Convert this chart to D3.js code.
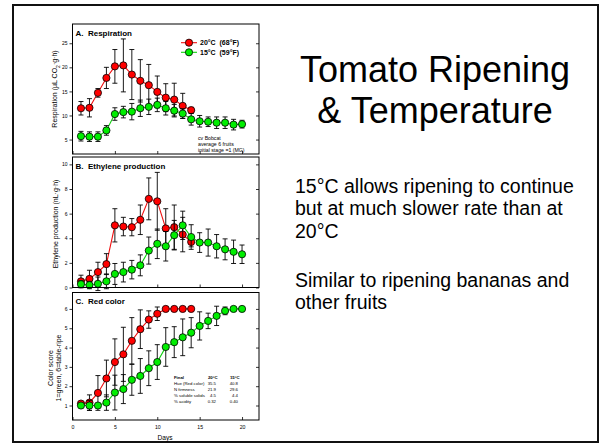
<!DOCTYPE html>
<html>
<head>
<meta charset="utf-8">
<script src="https://cdn.jsdelivr.net/npm/d3@7"></script>
<style>
  html, body { margin: 0; padding: 0; background: #fff; }
  svg { display: block; font-family: "Liberation Sans", Arial, Helvetica, sans-serif; }
  .pre { white-space: pre; }
</style>
</head>
<body>
<svg id="chart" width="602" height="445"></svg>
<script>
// Sampling days for each storage temperature
const days20 = [1, 2, 3, 4, 5, 6, 7, 8, 9, 10, 11, 12, 13, 14];
const days15 = [1, 2, 3, 4, 5, 6, 7, 8, 9, 10, 11, 12, 13, 14, 15, 16, 17, 18, 19, 20];

// A. Respiration (µL CO2 per g-h), mean and error
const resp20 = [11.5, 11.6, 14.7, 17.8, 20.2, 20.4, 18.5, 17.2, 16.3, 14.9, 13.7, 13.3, 12.0, 11.1];
const resp20Err = [1.4, 1.9, 0.9, 2.2, 3.5, 5.5, 5.2, 4.4, 4.3, 3.3, 2.9, 3.4, 2.6, 0.6];
const resp15 = [5.7, 5.6, 5.6, 6.9, 10.3, 10.7, 10.8, 11.5, 11.8, 12.2, 11.5, 11.0, 10.4, 9.2, 8.8, 8.7, 8.5, 8.5, 8.1, 8.2];
const resp15Err = [1.0, 1.0, 1.0, 1.0, 1.3, 1.2, 1.7, 1.7, 1.6, 1.4, 1.4, 1.3, 1.0, 1.2, 1.2, 1.0, 1.2, 1.2, 1.1, 0.8];

// B. Ethylene production (nL per g-h)
const eth20 = [0.5, 0.7, 1.25, 1.9, 5.05, 4.95, 4.9, 5.5, 7.2, 7.0, 4.8, 4.9, 4.3, 3.7];
const eth20Err = [0.5, 0.7, 0.8, 0.85, 1.35, 0.75, 0.7, 1.2, 1.7, 2.35, 1.6, 1.8, 1.4, 0.4];
const eth15 = [0.27, 0.2, 0.3, 0.5, 1.1, 1.25, 1.45, 1.8, 3.0, 3.55, 3.35, 4.25, 5.05, 4.1, 3.65, 3.65, 3.35, 3.1, 2.9, 2.7];
const eth15Err = [0.3, 0.3, 0.55, 0.6, 0.85, 0.8, 0.75, 0.85, 1.1, 1.2, 1.2, 1.2, 1.15, 1.0, 0.8, 1.1, 0.95, 0.85, 0.95, 0.75];

// C. Red color score (1 = green, 6 = table-ripe)
const color20 = [1.1, 1.15, 1.65, 2.4, 3.25, 3.65, 4.35, 4.95, 5.45, 5.75, 6.0, 6.0, 6.0, 6.0];
const color20Err = [0.1, 0.4, 0.9, 0.95, 1.2, 1.4, 1.2, 1.0, 0.45, 0.35, 0, 0, 0, 0];
const color15 = [1.0, 1.0, 1.0, 1.15, 1.67, 1.85, 2.33, 2.53, 2.93, 3.25, 4.03, 4.28, 4.53, 4.77, 5.12, 5.38, 5.64, 5.9, 6.0, 6.0];
const color15Err = [0, 0.25, 0, 0.4, 0.9, 0.75, 0.8, 0.9, 0.9, 0.9, 1.0, 0.8, 0.95, 0.78, 0.73, 0.4, 0.5, 0.2, 0, 0];

// Axis ticks
const dayTicks = [0, 5, 10, 15, 20];
const respTicks = [5, 10, 15, 20, 25];
const ethTicks = [0, 2, 4, 6, 8, 10];
const colorTicks = [1, 2, 3, 4, 5, 6];

// Legend and quality summary
const seriesLabels = ["20°C  (68°F)", "15°C  (59°F)"];
const noteLines = ["cv Bobcat", "average 6 fruits", "initial stage =1 (MG)"];
const finalHeaders = ["Final", "20°C", "15°C"];
const finalRows = ["Hue (Red color)", "N firmness", "% soluble solids", "% acidity"];
const final20 = ["35.5", "21.9", "4.5", "0.32"];
const final15 = ["40.8", "29.6", "4.4", "0.40"];

const RED = "#ff0000", GREEN = "#00ee00";
const LINE_RED = "#f01010", LINE_GREEN = "#10d010";

const svg = d3.select("#chart");
svg.append("rect").attr("width", 602).attr("height", 445).attr("fill", "#fff");

// slide frame
svg.append("rect")
  .attr("x", 13).attr("y", 5).attr("width", 585).attr("height", 437)
  .attr("fill", "none").attr("stroke", "#111").attr("stroke-width", 2);

const X0 = 72.5, X1 = 259;
const x = d3.scaleLinear().domain([0, 22]).range([X0, X1]);

const panels = [
  { title: "A.  Respiration", top: 24, bottom: 154, domain: [2, 29], ticks: respTicks,
    s20: resp20, e20: resp20Err, s15: resp15, e15: resp15Err },
  { title: "B.  Ethylene production", top: 157, bottom: 287.5, domain: [0, 10.6], ticks: ethTicks,
    s20: eth20, e20: eth20Err, s15: eth15, e15: eth15Err },
  { title: "C.  Red color", top: 292.5, bottom: 420, domain: [0.25, 6.85], ticks: colorTicks,
    s20: color20, e20: color20Err, s15: color15, e15: color15Err }
];

function styleAxis(g, fs) {
  g.select(".domain").remove();
  g.selectAll(".tick line").attr("stroke", "#000").attr("stroke-width", 0.8);
  g.selectAll(".tick text").attr("font-size", fs).attr("fill", "#000")
    .attr("font-family", "Liberation Sans, Arial, sans-serif");
}

function drawSeries(g, y, days, vals, errs, lineColor, fillColor) {
  const pts = days.map((d, i) => ({ day: d, v: vals[i], e: errs[i] }));
  g.append("path").datum(pts)
    .attr("fill", "none").attr("stroke", lineColor).attr("stroke-width", 1.1)
    .attr("d", d3.line().x(d => x(d.day)).y(d => y(d.v)));
  const bars = g.append("g").attr("stroke", "#000").attr("stroke-width", 0.9);
  pts.filter(d => d.e > 0).forEach(d => {
    const cx = x(d.day), yt = y(d.v + d.e), yb = y(d.v - d.e);
    bars.append("line").attr("x1", cx).attr("x2", cx).attr("y1", yt).attr("y2", yb);
    bars.append("line").attr("x1", cx - 2.5).attr("x2", cx + 2.5).attr("y1", yt).attr("y2", yt);
    bars.append("line").attr("x1", cx - 2.5).attr("x2", cx + 2.5).attr("y1", yb).attr("y2", yb);
  });
  g.append("g").selectAll("circle").data(pts).join("circle")
    .attr("cx", d => x(d.day)).attr("cy", d => y(d.v)).attr("r", 3.6)
    .attr("fill", fillColor).attr("stroke", "#000").attr("stroke-width", 0.8);
}

panels.forEach((p, idx) => {
  const y = d3.scaleLinear().domain(p.domain).range([p.bottom, p.top]);
  const g = svg.append("g");

  // series: 20°C first, 15°C over it
  drawSeries(g, y, days20, p.s20, p.e20, LINE_RED, RED);
  drawSeries(g, y, days15, p.s15, p.e15, LINE_GREEN, GREEN);

  // frame
  g.append("rect").attr("x", X0).attr("y", p.top)
    .attr("width", X1 - X0).attr("height", p.bottom - p.top)
    .attr("fill", "none").attr("stroke", "#000").attr("stroke-width", 1);

  // left axis (outward ticks, labelled)
  const la = g.append("g").attr("transform", `translate(${X0},0)`)
    .call(d3.axisLeft(y).tickValues(p.ticks).tickSize(3).tickPadding(2).tickFormat(d3.format("d")));
  styleAxis(la, 5);

  // right axis (inward ticks)
  const ra = g.append("g").attr("transform", `translate(${X1},0)`)
    .call(d3.axisRight(y).tickValues(p.ticks).tickSize(-3).tickFormat(""));
  styleAxis(ra, 5);

  // bottom axis (inward ticks)
  const ba = g.append("g").attr("transform", `translate(0,${p.bottom})`)
    .call(d3.axisBottom(x).tickValues(dayTicks).tickSize(-3).tickPadding(5)
      .tickFormat(idx === 2 ? d3.format("d") : ""));
  styleAxis(ba, 5.2);

  // panel title
  g.append("text").attr("class", "pre")
    .attr("x", X0 + 3).attr("y", p.top + 11.5)
    .attr("font-size", 8).attr("font-weight", "bold").text(p.title);
});

// y-axis titles
const yLab = (xp, yp, fs) => svg.append("text")
  .attr("transform", `translate(${xp},${yp}) rotate(-90)`)
  .attr("text-anchor", "middle").attr("font-size", fs).attr("fill", "#000");

const tA = yLab(57, 89, 7);
tA.append("tspan").text("Respiration (µL CO");
tA.append("tspan").attr("baseline-shift", "sub").attr("font-size", 5).text("2");
tA.append("tspan").text("·g·h)");

yLab(57.5, 224, 7).text("Ethylene production (nL·g·h)");
yLab(53, 368, 7).text("Color score");
yLab(61, 368, 7).text("1=green, 6=table-ripe");

// x-axis title
svg.append("text").attr("x", 165).attr("y", 440).attr("text-anchor", "middle")
  .attr("font-size", 6.6).text("Days");

// legend (panel A)
[[RED, LINE_RED], [GREEN, LINE_GREEN]].forEach((c, i) => {
  const ly = 42.7 + i * 9.6;
  svg.append("line").attr("x1", 181).attr("x2", 197).attr("y1", ly).attr("y2", ly)
    .attr("stroke", c[1]).attr("stroke-width", 1.1);
  svg.append("circle").attr("cx", 189).attr("cy", ly).attr("r", 3.6)
    .attr("fill", c[0]).attr("stroke", "#000").attr("stroke-width", 0.8);
  svg.append("text").attr("class", "pre").attr("x", 200).attr("y", ly + 2.4)
    .attr("font-size", 7).attr("font-weight", "bold").text(seriesLabels[i]);
});

// cultivar note (panel A)
noteLines.forEach((t, i) => {
  svg.append("text").attr("x", 198).attr("y", 139.5 + i * 6.2)
    .attr("font-size", 5.2).text(t);
});

// final quality summary (panel C)
const TFS = 4.3;
const LX = 174, C1 = 216, C2 = 238;
svg.append("text").attr("x", LX).attr("y", 378.5).attr("font-size", TFS)
  .attr("font-weight", "bold").text(finalHeaders[0]);
svg.append("text").attr("x", C1 + 1.5).attr("y", 378.5).attr("font-size", TFS)
  .attr("font-weight", "bold").attr("text-anchor", "end").text(finalHeaders[1]);
svg.append("text").attr("x", C2 + 1.5).attr("y", 378.5).attr("font-size", TFS)
  .attr("font-weight", "bold").attr("text-anchor", "end").text(finalHeaders[2]);
const rowY = [384.5, 391, 397, 403];
finalRows.forEach((r, i) => {
  svg.append("text").attr("x", LX).attr("y", rowY[i]).attr("font-size", TFS).text(r);
  svg.append("text").attr("x", C1).attr("y", rowY[i]).attr("font-size", TFS)
    .attr("text-anchor", "end").text(final20[i]);
  svg.append("text").attr("x", C2).attr("y", rowY[i]).attr("font-size", TFS)
    .attr("text-anchor", "end").text(final15[i]);
});

// slide heading and notes
const heading = ["Tomato Ripening", "& Temperature"];
heading.forEach((t, i) => {
  svg.append("text").attr("x", 435).attr("y", 81.7 + i * 41.6)
    .attr("text-anchor", "middle").attr("font-size", 36).attr("fill", "#000").text(t);
});
const bodyLines = [
  ["15°C allows ripening to continue", 192.7],
  ["but at much slower rate than at", 215.3],
  ["20°C", 238.3],
  ["Similar to ripening bananas and", 286.7],
  ["other fruits", 309.3]
];
bodyLines.forEach(([t, yy]) => {
  svg.append("text").attr("x", 295).attr("y", yy)
    .attr("font-size", 19.5).attr("fill", "#000").text(t);
});
</script>
</body>
</html>
